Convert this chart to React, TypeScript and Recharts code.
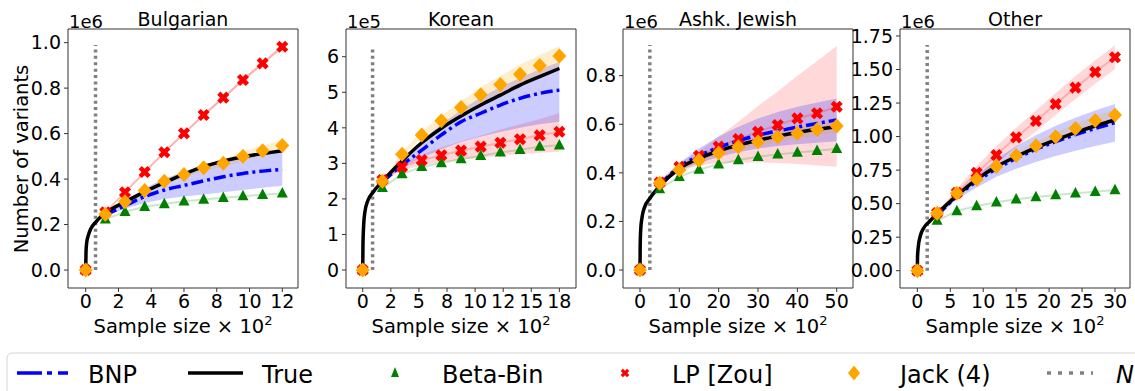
import React from "react";
import { ComposedChart, Line, Area, XAxis, YAxis, ReferenceArea } from "recharts";

const FONT = "'DejaVu Sans', Verdana, sans-serif";

// Bulgarian (variants x 1e6, sample size x 1e2)
const bulX = [0, 1.2, 2.4, 3.6, 4.8, 6, 7.2, 8.4, 9.6, 10.8, 12];
const bulLP = [0, 0.254, 0.342, 0.431, 0.518, 0.601, 0.682, 0.758, 0.836, 0.909, 0.982];
const bulLPLo = [0, 0.252, 0.339, 0.427, 0.513, 0.596, 0.676, 0.752, 0.829, 0.902, 0.975];
const bulLPHi = [0, 0.256, 0.345, 0.435, 0.523, 0.606, 0.688, 0.764, 0.843, 0.916, 0.989];
const bulJack = [0, 0.245, 0.3, 0.35, 0.39, 0.42, 0.45, 0.47, 0.5, 0.525, 0.548];
const bulJackLo = [0, 0.243, 0.295, 0.342, 0.379, 0.407, 0.434, 0.452, 0.48, 0.503, 0.524];
const bulJackHi = [0, 0.247, 0.305, 0.358, 0.401, 0.433, 0.466, 0.488, 0.52, 0.547, 0.572];
const bulBB = [0, 0.223, 0.256, 0.278, 0.29, 0.302, 0.31, 0.318, 0.325, 0.331, 0.337];
const bulBNP = [null, 0.242, 0.283, 0.323, 0.352, 0.372, 0.392, 0.41, 0.425, 0.435, 0.443];
const bulBNPLo = [0, 0.24, 0.27, 0.295, 0.312, 0.323, 0.332, 0.342, 0.352, 0.362, 0.371];
const bulBNPHi = [0, 0.245, 0.3, 0.36, 0.403, 0.43, 0.454, 0.475, 0.493, 0.508, 0.52];
const bulTrueX = [0, 0.02, 0.06, 0.15, 0.3, 0.6, 1.2, 2.4, 3.6, 4.8, 6, 7.2, 8.4, 9.6, 10.8, 12];
const bulTrueY = [0, 0.08, 0.12, 0.15, 0.18, 0.21, 0.25, 0.3, 0.344, 0.384, 0.422, 0.455, 0.479, 0.498, 0.512, 0.525];

// Korean (variants x 1e5)
const korX = [0, 1.75, 3.5, 5.25, 7, 8.75, 10.5, 12.25, 14, 15.75, 17.5];
const korLP = [0, 2.53, 2.9, 3.09, 3.23, 3.36, 3.47, 3.58, 3.68, 3.79, 3.89];
const korLPLo = [0, 2.5, 2.8, 2.95, 3.03, 3.1, 3.16, 3.21, 3.26, 3.3, 3.33];
const korLPHi = [0, 2.56, 3.0, 3.25, 3.45, 3.62, 3.78, 3.95, 4.1, 4.25, 4.41];
const korJack = [0, 2.5, 3.26, 3.8, 4.2, 4.57, 4.93, 5.22, 5.51, 5.75, 6.02];
const korJackLo = [0, 2.48, 3.2, 3.7, 4.06, 4.4, 4.72, 4.98, 5.24, 5.46, 5.75];
const korJackHi = [0, 2.52, 3.32, 3.9, 4.34, 4.74, 5.14, 5.46, 5.78, 6.04, 6.3];
const korBB = [0, 2.31, 2.7, 2.9, 3.01, 3.12, 3.21, 3.31, 3.38, 3.47, 3.51];
const korBNP = [null, 2.48, 2.95, 3.37, 3.8, 4.17, 4.41, 4.64, 4.83, 4.97, 5.06];
const korBNPLo = [0, 2.46, 2.9, 3.15, 3.4, 3.6, 3.75, 3.88, 4.0, 4.1, 4.17];
const korBNPHi = [0, 2.5, 3.1, 3.65, 4.1, 4.5, 4.85, 5.15, 5.4, 5.65, 5.85];
const korTrueX = [0, 0.02, 0.08, 0.2, 0.45, 0.9, 1.75, 3.5, 5.25, 7, 8.75, 10.5, 12.25, 14, 15.75, 17.5];
const korTrueY = [0, 0.7, 1.25, 1.65, 1.95, 2.18, 2.5, 3.07, 3.58, 3.99, 4.33, 4.64, 4.92, 5.2, 5.44, 5.67];
const korXTicks = [0, 2.5, 5, 7.5, 10, 12.5, 15, 17.5];
const korXTickLabels = ["0", "2", "5", "8", "10", "12", "15", "18"];

// Ashk. Jewish (variants x 1e6)
const ajX = [0, 5, 10, 15, 20, 25, 30, 35, 40, 45, 50];
const ajLP = [0, 0.36, 0.425, 0.47, 0.508, 0.539, 0.569, 0.597, 0.624, 0.645, 0.672];
const ajLPLo = [0, 0.35, 0.405, 0.43, 0.44, 0.443, 0.443, 0.44, 0.436, 0.43, 0.425];
const ajLPHi = [0, 0.37, 0.44, 0.49, 0.55, 0.61, 0.675, 0.735, 0.8, 0.86, 0.922];
const ajJack = [0, 0.357, 0.412, 0.452, 0.482, 0.507, 0.528, 0.547, 0.563, 0.578, 0.593];
const ajJackLo = [0, 0.352, 0.405, 0.443, 0.47, 0.492, 0.51, 0.527, 0.541, 0.554, 0.567];
const ajJackHi = [0, 0.362, 0.419, 0.461, 0.494, 0.522, 0.546, 0.567, 0.585, 0.602, 0.619];
const ajBB = [0, 0.333, 0.384, 0.414, 0.435, 0.453, 0.466, 0.476, 0.484, 0.491, 0.499];
const ajBNP = [null, 0.35, 0.425, 0.47, 0.505, 0.532, 0.555, 0.572, 0.588, 0.603, 0.618];
const ajBNPLo = [0, 0.345, 0.41, 0.44, 0.465, 0.485, 0.5, 0.51, 0.518, 0.524, 0.53];
const ajBNPHi = [0, 0.36, 0.44, 0.5, 0.55, 0.59, 0.624, 0.65, 0.672, 0.69, 0.706];
const ajTrueX = [0, 0.05, 0.2, 0.5, 1.2, 2.5, 5, 10, 15, 20, 25, 30, 35, 40, 45, 50];
const ajTrueY = [0, 0.1, 0.17, 0.215, 0.26, 0.295, 0.345, 0.418, 0.46, 0.49, 0.514, 0.534, 0.551, 0.566, 0.579, 0.59];

// Other (variants x 1e6)
const otX = [0, 3, 6, 9, 12, 15, 18, 21, 24, 27, 30];
const otLP = [0, 0.43, 0.58, 0.73, 0.862, 0.994, 1.116, 1.243, 1.365, 1.481, 1.591];
const otLPLo = [0, 0.42, 0.55, 0.68, 0.797, 0.922, 1.038, 1.161, 1.279, 1.393, 1.501];
const otLPHi = [0, 0.44, 0.61, 0.78, 0.927, 1.066, 1.194, 1.325, 1.451, 1.569, 1.681];
const otJack = [0, 0.428, 0.577, 0.681, 0.776, 0.858, 0.932, 0.999, 1.061, 1.119, 1.161];
const otJackLo = [0, 0.424, 0.567, 0.667, 0.757, 0.835, 0.905, 0.969, 1.027, 1.082, 1.12];
const otJackHi = [0, 0.432, 0.587, 0.695, 0.795, 0.881, 0.959, 1.029, 1.095, 1.156, 1.2];
const otBB = [0, 0.373, 0.445, 0.482, 0.51, 0.532, 0.549, 0.564, 0.577, 0.589, 0.602];
const otBNP = [null, 0.41, 0.555, 0.665, 0.76, 0.838, 0.905, 0.962, 1.015, 1.06, 1.104];
const otBNPLo = [0, 0.4, 0.53, 0.62, 0.7, 0.76, 0.81, 0.855, 0.895, 0.93, 0.962];
const otBNPHi = [0, 0.43, 0.58, 0.71, 0.83, 0.93, 1.01, 1.08, 1.14, 1.195, 1.243];
const otTrueX = [0, 0.03, 0.15, 0.4, 1.0, 1.8, 3, 6, 9, 12, 15, 18, 21, 24, 27, 30];
const otTrueY = [0, 0.1, 0.18, 0.25, 0.32, 0.365, 0.425, 0.56, 0.681, 0.776, 0.85, 0.917, 0.975, 1.03, 1.079, 1.124];

// observed sample size N and the top of its marker line
const sampleN = [0.6, 0.875, 2.5, 1.5];
const sampleNTop = [0.99, 6.3, 0.926, 1.683];

const PLOT_TOP = 29;
const PLOT_H = 259;
const PLOT_W = 230;
const CHART_H = 340;

type Num = number | null;
interface PanelDef {
  title: string;
  scale: string;
  left: number;
  yw: number;
  xDomain: [number, number];
  yDomain: [number, number];
  xTicks: number[];
  xTickLabels?: string[];
  yTicks: number[];
  yDigits: number;
  n: number;
  nTop: number;
  x: number[];
  lp: number[];
  lpLo: number[];
  lpHi: number[];
  jack: number[];
  jackLo: number[];
  jackHi: number[];
  bb: number[];
  bnp: Num[];
  bnpLo: number[];
  bnpHi: number[];
  trueX: number[];
  trueY: number[];
}

const panels: PanelDef[] = [
  {
    title: "Bulgarian", scale: "1e6", left: 68, yw: 68,
    xDomain: [-1.08, 12.96], yDomain: [-0.079, 1.06],
    xTicks: [0, 2, 4, 6, 8, 10, 12], yTicks: [0, 0.2, 0.4, 0.6, 0.8, 1.0], yDigits: 1,
    n: sampleN[0], nTop: sampleNTop[0],
    x: bulX, lp: bulLP, lpLo: bulLPLo, lpHi: bulLPHi, jack: bulJack, jackLo: bulJackLo, jackHi: bulJackHi,
    bb: bulBB, bnp: bulBNP, bnpLo: bulBNPLo, bnpHi: bulBNPHi, trueX: bulTrueX, trueY: bulTrueY,
  },
  {
    title: "Korean", scale: "1e5", left: 346, yw: 60,
    xDomain: [-1.49, 18.98], yDomain: [-0.506, 6.78],
    xTicks: korXTicks, xTickLabels: korXTickLabels, yTicks: [0, 1, 2, 3, 4, 5, 6], yDigits: 0,
    n: sampleN[1], nTop: sampleNTop[1],
    x: korX, lp: korLP, lpLo: korLPLo, lpHi: korLPHi, jack: korJack, jackLo: korJackLo, jackHi: korJackHi,
    bb: korBB, bnp: korBNP, bnpLo: korBNPLo, bnpHi: korBNPHi, trueX: korTrueX, trueY: korTrueY,
  },
  {
    title: "Ashk. Jewish", scale: "1e6", left: 623, yw: 60,
    xDomain: [-4.32, 54.14], yDomain: [-0.074, 0.992],
    xTicks: [0, 10, 20, 30, 40, 50], yTicks: [0, 0.2, 0.4, 0.6, 0.8], yDigits: 1,
    n: sampleN[2], nTop: sampleNTop[2],
    x: ajX, lp: ajLP, lpLo: ajLPLo, lpHi: ajLPHi, jack: ajJack, jackLo: ajJackLo, jackHi: ajJackHi,
    bb: ajBB, bnp: ajBNP, bnpLo: ajBNPLo, bnpHi: ajBNPHi, trueX: ajTrueX, trueY: ajTrueY,
  },
  {
    title: "Other", scale: "1e6", left: 900, yw: 60,
    xDomain: [-2.63, 32.28], yDomain: [-0.129, 1.802],
    xTicks: [0, 5, 10, 15, 20, 25, 30], yTicks: [0, 0.25, 0.5, 0.75, 1.0, 1.25, 1.5, 1.75], yDigits: 2,
    n: sampleN[3], nTop: sampleNTop[3],
    x: otX, lp: otLP, lpLo: otLPLo, lpHi: otLPHi, jack: otJack, jackLo: otJackLo, jackHi: otJackHi,
    bb: otBB, bnp: otBNP, bnpLo: otBNPLo, bnpHi: otBNPHi, trueX: otTrueX, trueY: otTrueY,
  },
];

const pts = (xs: number[], ys: Num[]) =>
  xs.map((x, i) => ({ x, y: ys[i] })).filter((d) => d.y != null);

// marker paths
const xPath = (cx: number, cy: number, s: number) => {
  const a = s * 0.36;
  const p = [[-a, -s], [a, -s], [a, -a], [s, -a], [s, a], [a, a], [a, s], [-a, s], [-a, a], [-s, a], [-s, -a], [-a, -a]];
  const k = Math.SQRT1_2;
  return p.map(([x, y], i) => `${i ? "L" : "M"}${cx + (x - y) * k},${cy + (x + y) * k}`).join("") + "Z";
};
const diamondPath = (cx: number, cy: number, w: number, h: number) =>
  `M${cx},${cy - h}L${cx + w},${cy}L${cx},${cy + h}L${cx - w},${cy}Z`;
const triPath = (cx: number, cy: number, w: number, h: number) =>
  `M${cx},${cy - h * 0.6}L${cx + w},${cy + h * 0.4}L${cx - w},${cy + h * 0.4}Z`;

const marker = (kind: "x" | "d" | "t", color: string) => (props: any) => {
  const { cx, cy, index } = props;
  if (cx == null || cy == null || isNaN(cx) || isNaN(cy)) return <g key={`m-${index}`} />;
  const d = kind === "x" ? xPath(cx, cy, 6.3) : kind === "d" ? diamondPath(cx, cy, 7, 7.5) : triPath(cx, cy, 5.5, 10.5);
  return <path key={`m-${index}`} d={d} fill={color} />;
};

const tickStyle = { fontSize: 19, fontFamily: FONT, fill: "#000" };

function Panel({ p }: { p: PanelDef }) {
  const rows = p.x.slice(1).map((x, j) => ({
    x,
    lpR: [p.lpLo[j + 1], p.lpHi[j + 1]],
    bnpR: [p.bnpLo[j + 1], p.bnpHi[j + 1]],
    jkR: [p.jackLo[j + 1], p.jackHi[j + 1]],
  }));
  const xFmt = (v: number) => (p.xTickLabels ? p.xTickLabels[p.xTicks.indexOf(v)] : String(v));
  const nLine = [{ x: p.n, y: 0 }, { x: p.n, y: p.nTop }];
  return (
    <div style={{ position: "absolute", left: p.left - p.yw, top: 0 }}>
      <ComposedChart
        width={p.yw + PLOT_W + 6}
        height={CHART_H}
        data={rows}
        margin={{ top: PLOT_TOP, right: 6, bottom: 0, left: 0 }}
      >
        <XAxis
          type="number"
          dataKey="x"
          domain={p.xDomain}
          allowDataOverflow
          ticks={p.xTicks}
          interval={0}
          tickFormatter={xFmt}
          height={CHART_H - PLOT_TOP - PLOT_H}
          axisLine={false}
          tickSize={4}
          tickMargin={3}
          tickLine={{ stroke: "#333" }}
          tick={tickStyle}
        />
        <YAxis
          type="number"
          domain={p.yDomain}
          allowDataOverflow
          ticks={p.yTicks}
          interval={0}
          tickFormatter={(v: number) => v.toFixed(p.yDigits)}
          width={p.yw}
          axisLine={false}
          tickSize={4}
          tickMargin={3}
          tickLine={{ stroke: "#333" }}
          tick={tickStyle}
        />
        <Area dataKey="lpR" type="linear" stroke="none" fill="#ff0000" fillOpacity={0.15} isAnimationActive={false} />
        <Area dataKey="bnpR" type="linear" stroke="none" fill="#0000ff" fillOpacity={0.2} isAnimationActive={false} />
        <Area dataKey="jkR" type="linear" stroke="none" fill="#ffa500" fillOpacity={0.2} isAnimationActive={false} />
        <Line data={pts(p.x.slice(1), p.lp.slice(1))} dataKey="y" stroke="#ff0000" strokeOpacity={0.2} strokeWidth={2} dot={false} isAnimationActive={false} />
        <Line data={pts(p.x.slice(1), p.bb.slice(1))} dataKey="y" stroke="#008000" strokeOpacity={0.2} strokeWidth={2} dot={false} isAnimationActive={false} />
        <Line data={nLine} dataKey="y" stroke="#808080" strokeWidth={3.5} strokeDasharray="3 3.4" dot={false} isAnimationActive={false} />
        <Line data={pts(p.x, p.bb)} dataKey="y" stroke="none" dot={marker("t", "#008000")} isAnimationActive={false} />
        <Line data={pts(p.x, p.lp)} dataKey="y" stroke="none" dot={marker("x", "#ff0000")} isAnimationActive={false} />
        <Line data={pts(p.x, p.jack)} dataKey="y" stroke="none" dot={marker("d", "#ffa500")} isAnimationActive={false} />
        <Line data={pts(p.x, p.bnp)} dataKey="y" type="monotone" stroke="#0000ff" strokeWidth={3.5} strokeDasharray="12 4 3 4" dot={false} isAnimationActive={false} />
        <Line data={pts(p.trueX, p.trueY)} dataKey="y" type="monotone" stroke="#000" strokeWidth={3.5} dot={false} isAnimationActive={false} />
        <ReferenceArea
          x1={p.xDomain[0]}
          x2={p.xDomain[1]}
          y1={p.yDomain[0]}
          y2={p.yDomain[1]}
          fill="none"
          fillOpacity={0}
          stroke="#333"
          strokeWidth={1}
          ifOverflow="visible"
        />
      </ComposedChart>
    </div>
  );
}

function Overlay() {
  const legendY = 373;
  return (
    <svg width={1135} height={391} style={{ position: "absolute", left: 0, top: 0, pointerEvents: "none" }} fontFamily={FONT}>
      {panels.map((p) => (
        <g key={p.title}>
          <text x={p.left + PLOT_W / 2} y={26} textAnchor="middle" fontSize={19}>{p.title}</text>
          <text x={p.left + 1} y={27.5} fontSize={18}>{p.scale}</text>
          <text x={p.left + PLOT_W / 2} y={333} textAnchor="middle" fontSize={19.5}>
            Sample size × 10<tspan dy={-8} fontSize={13}>2</tspan>
          </text>
        </g>
      ))}
      <text transform="rotate(-90)" x={-159} y={28} textAnchor="middle" fontSize={19.5}>Number of variants</text>

      <rect x={7} y={353} width={1150} height={60} rx={5} fill="#fff" stroke="#d4d4d4" strokeWidth={1} />
      <line x1={17} x2={68} y1={legendY} y2={legendY} stroke="#0000ff" strokeWidth={3.5} strokeDasharray="25 5 5 6" />
      <text x={88} y={383} fontSize={24}>BNP</text>
      <line x1={188} x2={243} y1={legendY} y2={legendY} stroke="#000" strokeWidth={3.5} />
      <text x={262} y={383} fontSize={24}>True</text>
      <path d={triPath(395, legendY, 4, 10)} fill="#008000" />
      <text x={442} y={383} fontSize={24}>Beta-Bin</text>
      <path d={xPath(625, legendY, 4.5)} fill="#ff0000" />
      <text x={672} y={383} fontSize={24}>LP [Zou]</text>
      <path d={diamondPath(854, legendY, 6, 7.5)} fill="#ffa500" />
      <text x={900} y={383} fontSize={24}>Jack (4)</text>
      <line x1={1047} x2={1093} y1={legendY} y2={legendY} stroke="#808080" strokeWidth={3.5} strokeDasharray="4 7" />
      <text x={1116} y={383} fontSize={24} fontStyle="italic">N</text>
    </svg>
  );
}

export default function App() {
  return (
    <div style={{ position: "absolute", left: 0, top: 0, width: 1135, height: 391, background: "#fff", overflow: "hidden", fontFamily: FONT }}>
      {panels.map((p) => (
        <Panel key={p.title} p={p} />
      ))}
      <Overlay />
    </div>
  );
}
